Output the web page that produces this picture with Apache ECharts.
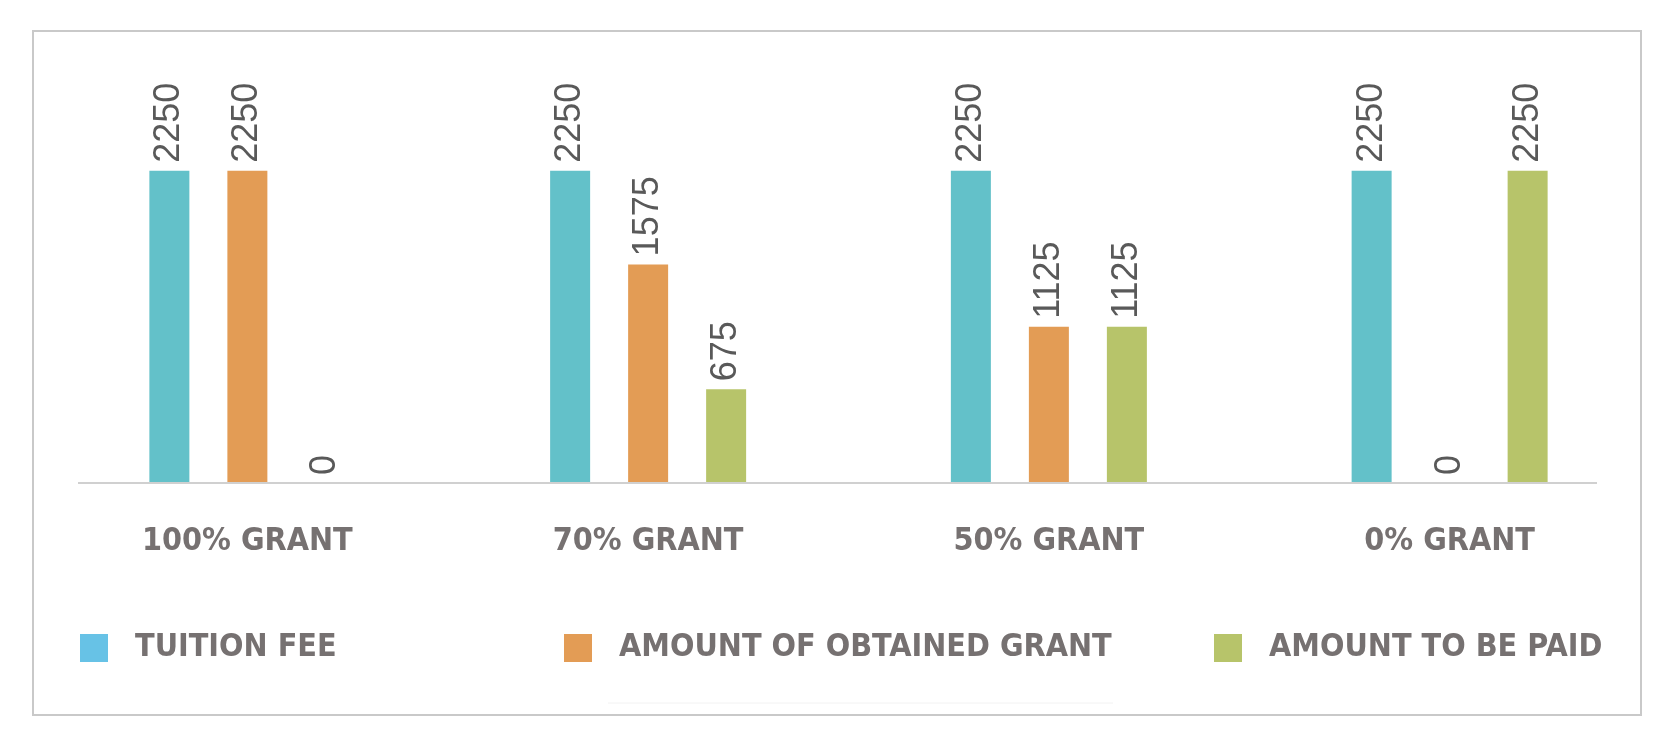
<!DOCTYPE html>
<html>
<head>
<meta charset="utf-8">
<script src="https://cdn.jsdelivr.net/npm/echarts@6/dist/echarts.min.js"></script>
<style>
  html, body { margin: 0; padding: 0; background: #fff; }
  #main { width: 1678px; height: 750px; }
</style>
</head>
<body>
<div id="main"></div>
<script>
const categories = ['100% GRANT', '70% GRANT', '50% GRANT', '0% GRANT'];
const seriesNames = ['TUITION FEE', 'AMOUNT OF OBTAINED GRANT', 'AMOUNT TO BE PAID'];
const tuitionFee = [2250, 2250, 2250, 2250];
const obtainedGrant = [2250, 1575, 1125, 0];
const toBePaid = [0, 675, 1125, 2250];

const barColors = ['#63C1C9', '#E39C55', '#B7C46A'];
const legendColors = ['#67C2E6', '#E39C55', '#B7C46A'];
const greyText = '#767171';
const textFont = 'DejaVu Sans Condensed';

const chart = echarts.init(document.getElementById('main'));

const valueLabel = {
    show: true,
    position: 'top',
    rotate: 90,
    align: 'left',
    verticalAlign: 'middle',
    distance: 8,
    fontSize: 36,
    fontFamily: 'Liberation Sans',
    color: '#595959'
};

function legendAt(i, left) {
    return {
        left: left, top: 627,
        icon: 'rect', itemWidth: 28, itemHeight: 28,
        selectedMode: false,
        data: [{ name: seriesNames[i], itemStyle: { color: legendColors[i] } }],
        textStyle: { fontSize: 32, fontFamily: textFont, fontWeight: 'bold', color: greyText, padding: [0, 0, 0, 22] }
    };
}

const option = {
    backgroundColor: '#fff',
    animation: false,
    grid: { left: 47, right: 28, top: 136, bottom: 267 },
    legend: [legendAt(0, 75), legendAt(1, 559), legendAt(2, 1209)],
    xAxis: {
        type: 'category',
        data: categories,
        axisLine: { show: false },
        axisTick: { show: false },
        axisLabel: { margin: 43, fontSize: 32, fontFamily: textFont, fontWeight: 'bold', color: greyText }
    },
    yAxis: { type: 'value', min: 0, max: 2500, show: false, splitLine: { show: false } },
    series: [
        { name: seriesNames[0], type: 'bar', barWidth: 40, barGap: '95%', itemStyle: { color: barColors[0] }, label: valueLabel, data: tuitionFee },
        { name: seriesNames[1], type: 'bar', barWidth: 40, barGap: '95%', itemStyle: { color: barColors[1] }, label: valueLabel, data: obtainedGrant },
        { name: seriesNames[2], type: 'bar', barWidth: 40, barGap: '95%', itemStyle: { color: barColors[2] }, label: valueLabel, data: toBePaid }
    ],
    graphic: [
        // outer frame
        { type: 'rect', shape: { x: 33, y: 31, width: 1608, height: 684 }, style: { fill: 'none', stroke: '#c9c9c9', lineWidth: 2 }, z: -1 },
        // baseline under the bars
        { type: 'line', shape: { x1: 78, y1: 483, x2: 1597, y2: 483 }, style: { stroke: '#d0d0d0', lineWidth: 2 }, z: 10 },
        // faint stray line near the bottom
        { type: 'line', shape: { x1: 608, y1: 703, x2: 1113, y2: 703 }, style: { stroke: '#f2f2f2', lineWidth: 1 } }
    ]
};

chart.setOption(option);
window.addEventListener('resize', () => chart.resize());
</script>
</body>
</html>
